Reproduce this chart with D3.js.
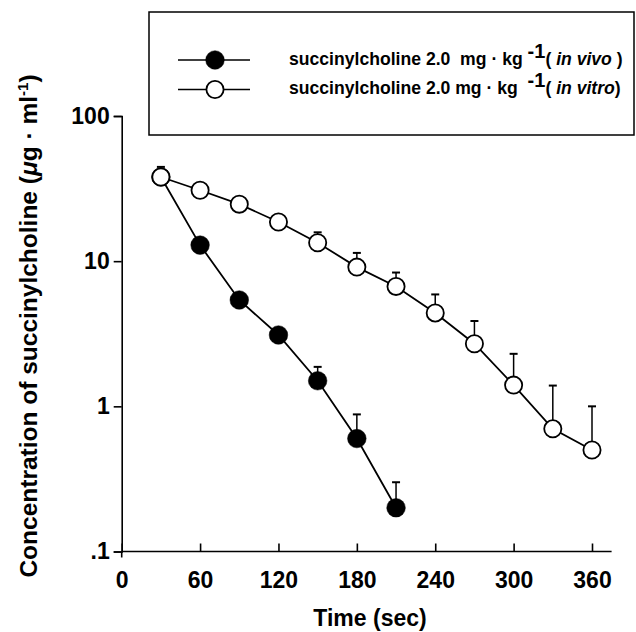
<!DOCTYPE html>
<html>
<head>
<meta charset="utf-8">
<script src="https://cdn.jsdelivr.net/npm/d3@7"></script>
<style>
  html, body { margin: 0; padding: 0; background: #fff; }
  svg { display: block; font-family: "Liberation Sans", Arial, Helvetica, sans-serif; }
  text { white-space: pre; }
</style>
</head>
<body>
<svg id="chart" width="636" height="632"></svg>
<script>
// ---- data ----
const vivoTimes = [30, 60, 90, 120, 150, 180, 210];
const vivoMean  = [38, 12.9, 5.4, 3.1, 1.5, 0.6, 0.2];
const vivoSD    = [0, 0, 0, 0, 0.37, 0.28, 0.10];

const vitroTimes = [30, 60, 90, 120, 150, 180, 210, 240, 270, 300, 330, 360];
const vitroMean  = [38.0, 30.8, 24.7, 18.6, 13.4, 9.1, 6.7, 4.4, 2.7, 1.4, 0.70, 0.50];
const vitroSD    = [6.6, 0, 0, 0, 2.4, 2.3, 1.65, 1.5, 1.17, 0.9, 0.69, 0.5];

const xTicks = [0, 60, 120, 180, 240, 300, 360];
const yTicks = [100, 10, 1, 0.1];
const yTickLabels = ["100", "10", "1", ".1"];

const legendLabels = [
  { pre: "succinylcholine 2.0  mg \u00b7 kg ", sup: "-1", open: "( ", it: "in vivo", close: " )", filled: true },
  { pre: "succinylcholine 2.0 mg \u00b7 kg  ", sup: "-1", open: "( ", it: "in vitro", close: ")", filled: false }
];

// ---- scales ----
const svg = d3.select("#chart");
const x = d3.scaleLinear().domain([0, 360]).range([121.7, 592]);
const y = d3.scaleLog().domain([0.1, 100]).range([551.5, 116]);

// ---- axes ----
const yAxis = d3.axisLeft(y).tickValues(yTicks)
  .tickFormat((d, i) => yTickLabels[i]).tickSize(8).tickSizeOuter(8).tickPadding(4);
const gy = svg.append("g").attr("transform", `translate(${x(0)},0)`).call(yAxis);
gy.selectAll("text").attr("font-size", 23).attr("font-weight", "bold").attr("fill", "#000");
gy.selectAll("line, path").attr("stroke", "#000").attr("stroke-width", 1.6);

const xAxis = d3.axisBottom(x).tickValues(xTicks).tickSize(-8).tickPadding(20);
const gx = svg.append("g").attr("transform", `translate(0,${y(0.1)})`).call(xAxis);
gx.select(".domain").remove();
gx.selectAll("text").attr("font-size", 23).attr("font-weight", "bold").attr("fill", "#000");
gx.selectAll("line").attr("stroke", "#000").attr("stroke-width", 1.6);
// x axis line, extended past last tick
svg.append("line")
  .attr("x1", x(0)).attr("x2", x(375))
  .attr("y1", y(0.1)).attr("y2", y(0.1))
  .attr("stroke", "#000").attr("stroke-width", 1.6);
// small extension of y axis below origin
svg.append("line")
  .attr("x1", x(0)).attr("x2", x(0))
  .attr("y1", y(0.1)).attr("y2", y(0.1) + 6)
  .attr("stroke", "#000").attr("stroke-width", 1.6);

// axis titles
svg.append("text")
  .attr("x", 370).attr("y", 626)
  .attr("text-anchor", "middle")
  .attr("font-size", 23).attr("font-weight", "bold")
  .text("Time (sec)");

const yt = svg.append("text")
  .attr("transform", "translate(37,326) rotate(-90)")
  .attr("text-anchor", "middle")
  .attr("font-size", 24.5).attr("font-weight", "bold");
yt.append("tspan").text("Concentration of succinylcholine (");
yt.append("tspan").attr("font-style", "italic").text("\u03bc");
yt.append("tspan").text("g \u00b7 ml");
yt.append("tspan").attr("font-size", 15).attr("dy", -9).text("-1");
yt.append("tspan").attr("dy", 9).text(")");

// ---- series ----
function drawSeries(times, mean, sd, filled) {
  const pts = times.map((t, i) => ({ t, m: mean[i], s: sd[i] }));
  const g = svg.append("g");
  g.append("path")
    .datum(pts)
    .attr("fill", "none").attr("stroke", "#000").attr("stroke-width", 1.8)
    .attr("d", d3.line().x(d => x(d.t)).y(d => y(d.m)));
  const eb = g.selectAll(".eb").data(pts.filter(d => d.s > 0)).enter().append("g");
  eb.append("line")
    .attr("x1", d => x(d.t)).attr("x2", d => x(d.t))
    .attr("y1", d => y(d.m)).attr("y2", d => y(d.m + d.s))
    .attr("stroke", "#000").attr("stroke-width", 1.5);
  eb.append("line")
    .attr("x1", d => x(d.t) - 4).attr("x2", d => x(d.t) + 4)
    .attr("y1", d => y(d.m + d.s)).attr("y2", d => y(d.m + d.s))
    .attr("stroke", "#000").attr("stroke-width", 2);
  g.selectAll("circle").data(pts).enter().append("circle")
    .attr("cx", d => x(d.t)).attr("cy", d => y(d.m))
    .attr("r", filled ? 9.3 : 8.6)
    .attr("fill", filled ? "#000" : "#fff")
    .attr("stroke", "#000").attr("stroke-width", filled ? 0.5 : 1.8);
}
drawSeries(vivoTimes, vivoMean, vivoSD, true);
drawSeries(vitroTimes, vitroMean, vitroSD, false);

// ---- legend ----
const lg = svg.append("g");
lg.append("rect")
  .attr("x", 149).attr("y", 12).attr("width", 485).attr("height", 123)
  .attr("fill", "#fff").attr("stroke", "#000").attr("stroke-width", 1.5);
legendLabels.forEach((L, i) => {
  const cy = 60 + i * 29.5;
  lg.append("line").attr("x1", 178).attr("x2", 250).attr("y1", cy).attr("y2", cy)
    .attr("stroke", "#000").attr("stroke-width", 1.6);
  lg.append("circle").attr("cx", 215).attr("cy", cy)
    .attr("r", L.filled ? 9.3 : 8.6)
    .attr("fill", L.filled ? "#000" : "#fff")
    .attr("stroke", "#000").attr("stroke-width", L.filled ? 0.5 : 1.8);
  const t = lg.append("text").attr("x", 289).attr("y", cy + 4.5)
    .attr("font-size", 17.6).attr("font-weight", "bold");
  t.append("tspan").text(L.pre);
  t.append("tspan").attr("font-size", 20).attr("dy", -7).text(L.sup);
  t.append("tspan").attr("dy", 7).text(L.open);
  t.append("tspan").attr("font-style", "italic").text(L.it);
  t.append("tspan").text(L.close);
});
</script>
</body>
</html>
